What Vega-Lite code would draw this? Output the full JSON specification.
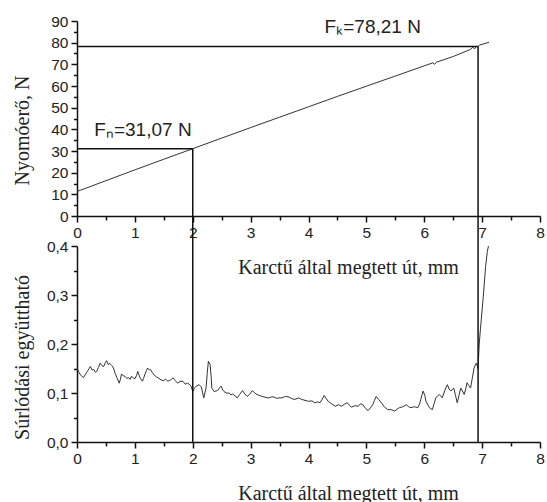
{
  "$schema": "https://vega.github.io/schema/vega-lite/v6.json",
  "background": "white",
  "padding": {"left": 11, "top": 14, "right": 0, "bottom": 4},
  "bounds": "flush",
  "spacing": 30,
  "datasets": {
    "force": [
      {"s": 0, "F": 11.3}, {"s": 0.5, "F": 16.3}, {"s": 1, "F": 21.3}, {"s": 1.5, "F": 26.2},
      {"s": 2, "F": 31.07}, {"s": 2.5, "F": 35.95}, {"s": 3, "F": 40.8}, {"s": 3.5, "F": 45.6},
      {"s": 4, "F": 50.4}, {"s": 4.5, "F": 55.2}, {"s": 5, "F": 59.9}, {"s": 5.5, "F": 64.6},
      {"s": 6, "F": 69.3}, {"s": 6.15, "F": 70.7}, {"s": 6.18, "F": 70.0}, {"s": 6.21, "F": 71.0},
      {"s": 6.5, "F": 73.6}, {"s": 6.8, "F": 76.9}, {"s": 6.84, "F": 77.9}, {"s": 6.87, "F": 77.1},
      {"s": 6.9, "F": 78.4}, {"s": 6.93, "F": 78.21}, {"s": 6.96, "F": 78.9}, {"s": 7.12, "F": 80.2}
    ],
    "friction": [
      {"s": 0.00, "mu": 0.151}, {"s": 0.03, "mu": 0.143}, {"s": 0.06, "mu": 0.137}, {"s": 0.11, "mu": 0.131},
      {"s": 0.15, "mu": 0.139}, {"s": 0.18, "mu": 0.144}, {"s": 0.21, "mu": 0.150}, {"s": 0.23, "mu": 0.154},
      {"s": 0.26, "mu": 0.147}, {"s": 0.29, "mu": 0.148}, {"s": 0.32, "mu": 0.142}, {"s": 0.34, "mu": 0.144},
      {"s": 0.37, "mu": 0.152}, {"s": 0.40, "mu": 0.161}, {"s": 0.43, "mu": 0.156}, {"s": 0.46, "mu": 0.154},
      {"s": 0.49, "mu": 0.162}, {"s": 0.51, "mu": 0.166}, {"s": 0.54, "mu": 0.158}, {"s": 0.56, "mu": 0.161},
      {"s": 0.60, "mu": 0.156}, {"s": 0.63, "mu": 0.151}, {"s": 0.66, "mu": 0.140}, {"s": 0.69, "mu": 0.131},
      {"s": 0.73, "mu": 0.120}, {"s": 0.75, "mu": 0.128}, {"s": 0.77, "mu": 0.139}, {"s": 0.80, "mu": 0.135},
      {"s": 0.83, "mu": 0.134}, {"s": 0.86, "mu": 0.130}, {"s": 0.89, "mu": 0.131}, {"s": 0.92, "mu": 0.128},
      {"s": 0.94, "mu": 0.134}, {"s": 0.97, "mu": 0.131}, {"s": 1.00, "mu": 0.129}, {"s": 1.03, "mu": 0.136},
      {"s": 1.05, "mu": 0.144}, {"s": 1.07, "mu": 0.137}, {"s": 1.09, "mu": 0.131}, {"s": 1.13, "mu": 0.124},
      {"s": 1.15, "mu": 0.130}, {"s": 1.17, "mu": 0.137}, {"s": 1.20, "mu": 0.146}, {"s": 1.22, "mu": 0.151},
      {"s": 1.25, "mu": 0.147}, {"s": 1.27, "mu": 0.148}, {"s": 1.30, "mu": 0.142}, {"s": 1.33, "mu": 0.137},
      {"s": 1.37, "mu": 0.133}, {"s": 1.40, "mu": 0.131}, {"s": 1.45, "mu": 0.127}, {"s": 1.49, "mu": 0.125},
      {"s": 1.53, "mu": 0.128}, {"s": 1.57, "mu": 0.124}, {"s": 1.62, "mu": 0.127}, {"s": 1.66, "mu": 0.131},
      {"s": 1.70, "mu": 0.125}, {"s": 1.74, "mu": 0.120}, {"s": 1.78, "mu": 0.124}, {"s": 1.83, "mu": 0.124},
      {"s": 1.87, "mu": 0.118}, {"s": 1.91, "mu": 0.120}, {"s": 1.95, "mu": 0.117}, {"s": 1.97, "mu": 0.114},
      {"s": 2.00, "mu": 0.103}, {"s": 2.03, "mu": 0.110}, {"s": 2.06, "mu": 0.114}, {"s": 2.11, "mu": 0.117},
      {"s": 2.15, "mu": 0.112}, {"s": 2.19, "mu": 0.090}, {"s": 2.21, "mu": 0.100}, {"s": 2.23, "mu": 0.110},
      {"s": 2.25, "mu": 0.140}, {"s": 2.27, "mu": 0.165}, {"s": 2.30, "mu": 0.158}, {"s": 2.32, "mu": 0.130},
      {"s": 2.33, "mu": 0.110}, {"s": 2.37, "mu": 0.103}, {"s": 2.40, "mu": 0.104}, {"s": 2.43, "mu": 0.105},
      {"s": 2.46, "mu": 0.110}, {"s": 2.49, "mu": 0.114}, {"s": 2.52, "mu": 0.106}, {"s": 2.54, "mu": 0.103},
      {"s": 2.58, "mu": 0.100}, {"s": 2.63, "mu": 0.100}, {"s": 2.66, "mu": 0.096}, {"s": 2.69, "mu": 0.098},
      {"s": 2.73, "mu": 0.094}, {"s": 2.77, "mu": 0.090}, {"s": 2.81, "mu": 0.097}, {"s": 2.86, "mu": 0.105},
      {"s": 2.90, "mu": 0.098}, {"s": 2.94, "mu": 0.093}, {"s": 2.98, "mu": 0.097}, {"s": 3.03, "mu": 0.105},
      {"s": 3.07, "mu": 0.100}, {"s": 3.11, "mu": 0.097}, {"s": 3.15, "mu": 0.095}, {"s": 3.20, "mu": 0.093},
      {"s": 3.26, "mu": 0.091}, {"s": 3.31, "mu": 0.090}, {"s": 3.36, "mu": 0.092}, {"s": 3.40, "mu": 0.092},
      {"s": 3.45, "mu": 0.089}, {"s": 3.49, "mu": 0.090}, {"s": 3.54, "mu": 0.090}, {"s": 3.60, "mu": 0.093},
      {"s": 3.66, "mu": 0.092}, {"s": 3.72, "mu": 0.088}, {"s": 3.77, "mu": 0.087}, {"s": 3.83, "mu": 0.090},
      {"s": 3.88, "mu": 0.087}, {"s": 3.94, "mu": 0.085}, {"s": 4.00, "mu": 0.083}, {"s": 4.06, "mu": 0.084},
      {"s": 4.11, "mu": 0.080}, {"s": 4.16, "mu": 0.082}, {"s": 4.20, "mu": 0.080}, {"s": 4.24, "mu": 0.088},
      {"s": 4.27, "mu": 0.095}, {"s": 4.31, "mu": 0.088}, {"s": 4.34, "mu": 0.083}, {"s": 4.40, "mu": 0.078},
      {"s": 4.46, "mu": 0.073}, {"s": 4.52, "mu": 0.076}, {"s": 4.57, "mu": 0.073}, {"s": 4.62, "mu": 0.077},
      {"s": 4.67, "mu": 0.080}, {"s": 4.71, "mu": 0.075}, {"s": 4.74, "mu": 0.071}, {"s": 4.80, "mu": 0.074},
      {"s": 4.86, "mu": 0.073}, {"s": 4.90, "mu": 0.078}, {"s": 4.94, "mu": 0.076}, {"s": 4.99, "mu": 0.068},
      {"s": 5.03, "mu": 0.064}, {"s": 5.07, "mu": 0.070}, {"s": 5.11, "mu": 0.076}, {"s": 5.14, "mu": 0.085},
      {"s": 5.17, "mu": 0.093}, {"s": 5.21, "mu": 0.087}, {"s": 5.26, "mu": 0.080}, {"s": 5.31, "mu": 0.072},
      {"s": 5.37, "mu": 0.066}, {"s": 5.43, "mu": 0.066}, {"s": 5.49, "mu": 0.063}, {"s": 5.53, "mu": 0.067},
      {"s": 5.57, "mu": 0.070}, {"s": 5.63, "mu": 0.072}, {"s": 5.69, "mu": 0.076}, {"s": 5.73, "mu": 0.072},
      {"s": 5.77, "mu": 0.070}, {"s": 5.83, "mu": 0.072}, {"s": 5.89, "mu": 0.070}, {"s": 5.92, "mu": 0.078},
      {"s": 5.94, "mu": 0.087}, {"s": 5.98, "mu": 0.104}, {"s": 6.01, "mu": 0.095}, {"s": 6.03, "mu": 0.083},
      {"s": 6.09, "mu": 0.070}, {"s": 6.14, "mu": 0.066}, {"s": 6.17, "mu": 0.078}, {"s": 6.20, "mu": 0.090},
      {"s": 6.23, "mu": 0.094}, {"s": 6.26, "mu": 0.097}, {"s": 6.29, "mu": 0.093}, {"s": 6.31, "mu": 0.090},
      {"s": 6.34, "mu": 0.100}, {"s": 6.37, "mu": 0.110}, {"s": 6.40, "mu": 0.117}, {"s": 6.43, "mu": 0.108},
      {"s": 6.46, "mu": 0.104}, {"s": 6.49, "mu": 0.108}, {"s": 6.51, "mu": 0.110}, {"s": 6.54, "mu": 0.095},
      {"s": 6.57, "mu": 0.080}, {"s": 6.60, "mu": 0.095}, {"s": 6.63, "mu": 0.110}, {"s": 6.66, "mu": 0.104},
      {"s": 6.69, "mu": 0.097}, {"s": 6.72, "mu": 0.110}, {"s": 6.74, "mu": 0.121}, {"s": 6.77, "mu": 0.115},
      {"s": 6.80, "mu": 0.110}, {"s": 6.83, "mu": 0.130}, {"s": 6.86, "mu": 0.151}, {"s": 6.90, "mu": 0.161},
      {"s": 6.93, "mu": 0.150}, {"s": 6.95, "mu": 0.200}, {"s": 6.97, "mu": 0.229}, {"s": 7.02, "mu": 0.297},
      {"s": 7.06, "mu": 0.358}, {"s": 7.09, "mu": 0.389}, {"s": 7.11, "mu": 0.400}
    ],
    "guidesTop": [
      {"x1": 0, "x2": 2, "y1": 31.07, "y2": 31.07},
      {"x1": 2, "x2": 2, "y1": 0, "y2": 31.07},
      {"x1": 0, "x2": 6.93, "y1": 78.21, "y2": 78.21},
      {"x1": 6.93, "x2": 6.93, "y1": 0, "y2": 78.21}
    ],
    "guidesBottom": [
      {"x1": 2, "x2": 2, "y1": 0, "y2": 0.461},
      {"x1": 6.93, "x2": 6.93, "y1": 0, "y2": 0.461}
    ],
    "labels": [
      {"x": 1.14, "y": 36.9, "t": "Fₙ=31,07 N"},
      {"x": 5.11, "y": 84.4, "t": "Fₖ=78,21 N"}
    ]
  },
  "vconcat": [
    {
      "width": 463,
      "height": 195,
      "layer": [
        {
          "data": {"name": "force"},
          "mark": {"type": "line", "color": "#333333", "strokeWidth": 1},
          "encoding": {
            "x": {"field": "s", "type": "quantitative", "scale": {"domain": [0, 8], "nice": false},
              "axis": {"values": [0, 1, 2, 3, 4, 5, 6, 7, 8], "format": "d", "title": "Karctű által megtett út, mm",
                "titleX": 271, "titleY": 57, "titleAlign": "center", "titleBaseline": "alphabetic", "titleAnchor": null}},
            "y": {"field": "F", "type": "quantitative", "scale": {"domain": [0, 90], "nice": false},
              "axis": {"values": [0, 10, 20, 30, 40, 50, 60, 70, 80, 90], "title": "Nyomóerő, N",
                "titleX": -55, "titleY": 109, "titleAlign": "center", "titleBaseline": "middle", "titleAnchor": null}}
          }
        },
        {
          "data": {"name": "guidesTop"},
          "mark": {"type": "rule", "color": "#111111", "strokeWidth": 1.5},
          "encoding": {
            "x": {"field": "x1", "type": "quantitative",
              "axis": {"orient": "bottom", "values": [0.5, 1.5, 2.5, 3.5, 4.5, 5.5, 6.5, 7.5], "labels": false, "domain": false, "tickSize": 4, "title": null}},
            "x2": {"field": "x2"},
            "y": {"field": "y1", "type": "quantitative",
              "axis": {"orient": "left", "values": [5, 15, 25, 35, 45, 55, 65, 75, 85], "labels": false, "domain": false, "tickSize": 3.5, "title": null}},
            "y2": {"field": "y2"}
          }
        },
        {
          "data": {"name": "labels"},
          "mark": {"type": "text", "font": "Liberation Sans", "fontSize": 19, "color": "#222222", "align": "center", "baseline": "alphabetic"},
          "encoding": {
            "x": {"field": "x", "type": "quantitative", "axis": null},
            "y": {"field": "y", "type": "quantitative", "axis": null},
            "text": {"field": "t"}
          }
        }
      ],
      "resolve": {"axis": {"x": "independent", "y": "independent"}}
    },
    {
      "width": 463,
      "height": 196,
      "layer": [
        {
          "data": {"name": "friction"},
          "mark": {"type": "line", "color": "#333333", "strokeWidth": 1},
          "encoding": {
            "x": {"field": "s", "type": "quantitative", "scale": {"domain": [0, 8], "nice": false},
              "axis": {"values": [0, 1, 2, 3, 4, 5, 6, 7, 8], "format": "d", "title": "Karctű által megtett út, mm",
                "titleX": 271, "titleY": 57, "titleAlign": "center", "titleBaseline": "alphabetic", "titleAnchor": null}},
            "y": {"field": "mu", "type": "quantitative", "scale": {"domain": [0, 0.4], "nice": false},
              "axis": {"values": [0, 0.1, 0.2, 0.3, 0.4], "labelExpr": "replace(format(datum.value, '.1f'), '.', ',')", "title": "Súrlódási együttható",
                "titleX": -55, "titleY": 111, "titleAlign": "center", "titleBaseline": "middle", "titleAnchor": null}}
          }
        },
        {
          "data": {"name": "guidesBottom"},
          "mark": {"type": "rule", "color": "#111111", "strokeWidth": 1.5},
          "encoding": {
            "x": {"field": "x1", "type": "quantitative",
              "axis": {"orient": "bottom", "values": [0.5, 1.5, 2.5, 3.5, 4.5, 5.5, 6.5, 7.5], "labels": false, "domain": false, "tickSize": 4, "title": null}},
            "x2": {"field": "x2"},
            "y": {"field": "y1", "type": "quantitative",
              "axis": {"orient": "left", "values": [0.05, 0.15, 0.25, 0.35], "labels": false, "domain": false, "tickSize": 3.5, "title": null}},
            "y2": {"field": "y2"}
          }
        }
      ],
      "resolve": {"axis": {"x": "independent", "y": "independent"}}
    }
  ],
  "config": {
    "view": {"stroke": null},
    "axis": {
      "grid": false,
      "domainColor": "#111111",
      "domainWidth": 1.5,
      "tickColor": "#111111",
      "tickWidth": 1.5,
      "tickSize": 6,
      "labelFont": "Liberation Sans",
      "labelFontSize": 15.5,
      "labelColor": "#222222",
      "labelPadding": 3,
      "labelFlush": false,
      "labelOverlap": false,
      "titleFont": "Liberation Serif",
      "titleFontSize": 20,
      "titleFontWeight": "normal",
      "titleColor": "#222222"
    }
  }
}
